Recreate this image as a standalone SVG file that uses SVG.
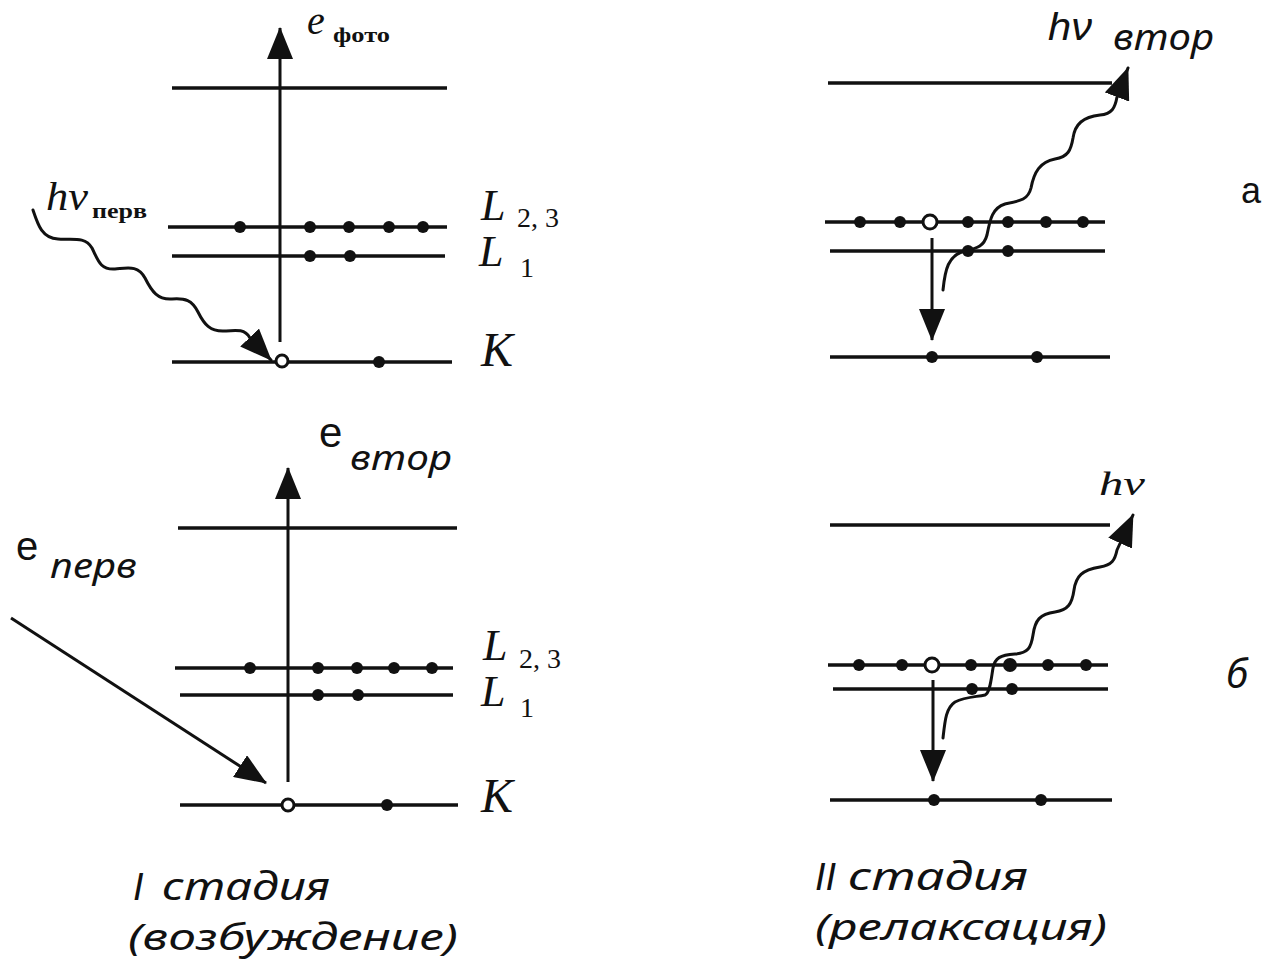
<svg xmlns="http://www.w3.org/2000/svg" width="1265" height="966" viewBox="0 0 1265 966">
<style>
.lvl{stroke:#111;stroke-width:3.5;fill:none}
.arr{stroke:#111;stroke-width:3;fill:none;marker-end:url(#ah)}
.wave{stroke:#111;stroke-width:3;fill:none;stroke-linejoin:round;stroke-linecap:round;marker-end:url(#ah)}
.dot{fill:#111}
.hole{fill:#fff;stroke:#111;stroke-width:3}
.serif{font-family:"Liberation Serif","DejaVu Serif",serif;fill:#111}
.sans{font-family:"Liberation Sans","DejaVu Sans",sans-serif;fill:#111}
.cyr{font-family:"Noto Sans","Open Sans","Liberation Sans",sans-serif;font-style:italic;fill:#111}
.it{font-style:italic}
.bold{font-weight:bold}
</style>
<defs>
<marker id="ah" viewBox="0 0 32 26" refX="31" refY="13" markerWidth="32" markerHeight="26" markerUnits="userSpaceOnUse" orient="auto">
<path d="M0,0 L32,13 L0,26 z" fill="#111"/>
</marker>
</defs>
<rect width="1265" height="966" fill="#fff"/>

<g id="connectors">
<line class="arr" x1="280" y1="342" x2="280" y2="28"/>
<path class="wave" d="M33,210 C38,225 42,238 58,239 C72,240 85,236 92,248 C98,260 100,270 115,269 C128,268 138,265 145,278 C152,292 158,300 172,299 C185,298 192,300 198,312 C204,324 210,332 225,331 C237,330 245,329 250,338 L271,360"/>
<line class="arr" x1="932" y1="238" x2="932" y2="340"/>
<path class="wave" d="M943,290 C945,270 948,255 965,251 C978,248 984,246 987,235 C990,220 992,208 1005,204 C1020,201 1028,200 1031,188 C1034,172 1040,162 1055,159 C1068,157 1071,150 1073,138 C1075,124 1083,117 1100,115 C1112,114 1115,108 1117,97 L1128,68"/>
<line class="arr" x1="288" y1="782" x2="288" y2="468"/>
<line class="arr" x1="11" y1="618" x2="266" y2="783"/>
<line class="arr" x1="933" y1="680" x2="933" y2="781"/>
<path class="wave" d="M943,738 C945,720 946,708 955,702 C965,697 975,697 985,695 C990,693 991,680 993,668 C995,658 1000,655 1015,654 C1028,653 1031,648 1033,635 C1035,620 1040,614 1055,612 C1068,610 1072,604 1074,590 C1076,576 1082,570 1100,567 C1112,565 1115,560 1117,550 L1133,515"/>
</g>

<g id="panel-I-photo">
<line class="lvl" x1="172" y1="88" x2="447" y2="88"/>
<line class="lvl" x1="168" y1="227" x2="447" y2="227"/>
<line class="lvl" x1="172" y1="256" x2="445" y2="256"/>
<line class="lvl" x1="172" y1="362" x2="452" y2="362"/>
<circle class="dot" cx="240" cy="227" r="6"/><circle class="dot" cx="310" cy="227" r="6"/><circle class="dot" cx="349" cy="227" r="6"/><circle class="dot" cx="389" cy="227" r="6"/><circle class="dot" cx="423" cy="227" r="6"/>
<circle class="dot" cx="310" cy="256" r="6"/><circle class="dot" cx="350" cy="256" r="6"/>
<circle class="dot" cx="379" cy="362" r="6"/>
<circle class="hole" cx="282" cy="361" r="6"/>
<text class="serif it" x="307" y="34" font-size="40">e</text>
<text class="serif bold" x="333" y="42" font-size="22" textLength="57" lengthAdjust="spacingAndGlyphs">фото</text>
<text class="serif it" x="46" y="210" font-size="40" textLength="42" lengthAdjust="spacingAndGlyphs">hν</text>
<text class="serif bold" x="92" y="218" font-size="20" textLength="55" lengthAdjust="spacingAndGlyphs">перв</text>
<text class="serif it" x="481" y="220" font-size="44">L</text>
<text class="serif" x="517" y="227" font-size="28">2, 3</text>
<text class="serif it" x="479" y="266" font-size="44">L</text>
<text class="serif" x="520" y="277" font-size="28">1</text>
<text class="serif it" x="481" y="366" font-size="48">K</text>
</g>

<g id="panel-II-a">
<line class="lvl" x1="828" y1="83" x2="1112" y2="83"/>
<line class="lvl" x1="825" y1="222" x2="1105" y2="222"/>
<line class="lvl" x1="830" y1="251" x2="1105" y2="251"/>
<line class="lvl" x1="830" y1="357" x2="1110" y2="357"/>
<circle class="dot" cx="860" cy="222" r="6"/><circle class="dot" cx="900" cy="222" r="6"/><circle class="dot" cx="968" cy="222" r="6"/><circle class="dot" cx="1008" cy="222" r="6"/><circle class="dot" cx="1046" cy="222" r="6"/><circle class="dot" cx="1083" cy="222" r="6"/>
<circle class="hole" cx="930" cy="222" r="7"/>
<circle class="dot" cx="968" cy="251" r="6"/><circle class="dot" cx="1008" cy="251" r="6"/>
<circle class="dot" cx="932" cy="357" r="6"/><circle class="dot" cx="1037" cy="357" r="6"/>
<text class="sans it" x="1048" y="40" font-size="38" textLength="44" lengthAdjust="spacingAndGlyphs">hν</text>
<text class="cyr" x="1113" y="50" font-size="36" textLength="101" lengthAdjust="spacingAndGlyphs">втор</text>
<text class="sans" x="1241" y="203" font-size="36">а</text>
</g>

<g id="panel-I-electron">
<line class="lvl" x1="178" y1="528" x2="457" y2="528"/>
<line class="lvl" x1="175" y1="668" x2="453" y2="668"/>
<line class="lvl" x1="180" y1="695" x2="453" y2="695"/>
<line class="lvl" x1="180" y1="805" x2="458" y2="805"/>
<circle class="dot" cx="250" cy="668" r="6"/><circle class="dot" cx="318" cy="668" r="6"/><circle class="dot" cx="357" cy="668" r="6"/><circle class="dot" cx="394" cy="668" r="6"/><circle class="dot" cx="432" cy="668" r="6"/>
<circle class="dot" cx="318" cy="695" r="6"/><circle class="dot" cx="358" cy="695" r="6"/>
<circle class="dot" cx="387" cy="805" r="6"/>
<circle class="hole" cx="288" cy="805" r="6"/>
<text class="sans" x="319" y="447" font-size="42">e</text>
<text class="cyr" x="350" y="470" font-size="35" textLength="102" lengthAdjust="spacingAndGlyphs">втор</text>
<text class="sans" x="16" y="560" font-size="40">e</text>
<text class="cyr" x="50" y="578" font-size="35" textLength="87" lengthAdjust="spacingAndGlyphs">перв</text>
<text class="serif it" x="483" y="660" font-size="44">L</text>
<text class="serif" x="519" y="668" font-size="28">2, 3</text>
<text class="serif it" x="481" y="706" font-size="44">L</text>
<text class="serif" x="520" y="717" font-size="28">1</text>
<text class="serif it" x="481" y="812" font-size="48">K</text>
</g>

<g id="panel-II-b">
<line class="lvl" x1="830" y1="525" x2="1110" y2="525"/>
<line class="lvl" x1="828" y1="665" x2="1108" y2="665"/>
<line class="lvl" x1="833" y1="689" x2="1108" y2="689"/>
<line class="lvl" x1="830" y1="800" x2="1112" y2="800"/>
<circle class="dot" cx="859" cy="665" r="6"/><circle class="dot" cx="902" cy="665" r="6"/><circle class="dot" cx="971" cy="665" r="6"/><circle class="dot" cx="1010" cy="665" r="7"/><circle class="dot" cx="1048" cy="665" r="6"/><circle class="dot" cx="1086" cy="665" r="6"/>
<circle class="hole" cx="932" cy="665" r="7"/>
<circle class="dot" cx="972" cy="689" r="6"/><circle class="dot" cx="1012" cy="689" r="6"/>
<circle class="dot" cx="934" cy="800" r="6"/><circle class="dot" cx="1041" cy="800" r="6"/>
<text class="serif it" x="1099" y="495" font-size="34" textLength="46" lengthAdjust="spacingAndGlyphs">hν</text>
<text class="cyr" x="1226" y="688" font-size="40">б</text>
</g>

<g id="captions">
<text class="sans it" x="133" y="900" font-size="38">I <tspan class="cyr" x="162" textLength="168" lengthAdjust="spacingAndGlyphs">стадия</tspan></text>
<text class="cyr" x="128" y="950" font-size="37" textLength="330" lengthAdjust="spacingAndGlyphs">(возбуждение)</text>
<text class="sans it" x="815" y="890" font-size="38">II <tspan class="cyr" x="848" textLength="180" lengthAdjust="spacingAndGlyphs">стадия</tspan></text>
<text class="cyr" x="815" y="940" font-size="37" textLength="292" lengthAdjust="spacingAndGlyphs">(релаксация)</text>
</g>
</svg>
